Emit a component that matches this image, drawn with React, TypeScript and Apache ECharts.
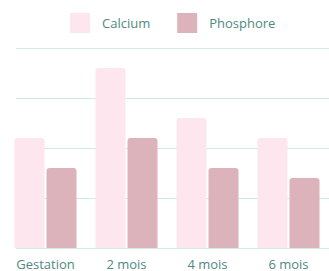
import React, { useEffect, useRef } from "react";
import * as echarts from "echarts";

const categories = ["Gestation", "2 mois", "4 mois", "6 mois"];
const calcium = [11, 18, 13, 11];
const phosphore = [8, 11, 8, 7];
const seriesNames = ["Calcium", "Phosphore"];
const yMin = 0;
const yMax = 20;
const yInterval = 5;

const TEXT = "#4f8a80";
const GRID = "#d3e9e4";
const FONT = "'Open Sans', 'Noto Sans', sans-serif";

export default function App() {
  const ref = useRef<HTMLDivElement>(null);
  useEffect(() => {
    const chart = echarts.init(ref.current!, null, { renderer: "svg" });
    chart.setOption({
      animation: false,
      backgroundColor: "#ffffff",
      textStyle: { fontFamily: FONT },
      legend: {
        left: 65,
        top: 8,
        itemWidth: 20,
        itemHeight: 20,
        itemGap: 27,
        icon: "rect",
        textStyle: { color: TEXT, fontSize: 13, fontFamily: FONT, padding: [0, 0, 0, 7] },
        data: seriesNames,
      },
      grid: [
        { left: 5, width: 336, top: 48, height: 200 },
        { left: 16, right: 0, top: 48, height: 200 },
      ],
      xAxis: [
        {
          type: "category",
          gridIndex: 0,
          data: categories,
          axisLine: { show: false },
          axisTick: { show: false },
          axisLabel: { color: TEXT, fontSize: 13, fontFamily: FONT, margin: 9 },
        },
        {
          type: "category",
          gridIndex: 1,
          data: categories,
          show: false,
        },
      ],
      yAxis: [
        {
          type: "value",
          gridIndex: 0,
          min: yMin,
          max: yMax,
          interval: yInterval,
          show: false,
          splitLine: { show: false },
        },
        {
          type: "value",
          gridIndex: 1,
          min: yMin,
          max: yMax,
          interval: yInterval,
          axisLine: { show: false },
          axisTick: { show: false },
          axisLabel: { show: false },
          splitLine: { show: true, lineStyle: { color: GRID, width: 1 } },
        },
      ],
      series: [
        {
          name: seriesNames[0],
          type: "bar",
          xAxisIndex: 0,
          yAxisIndex: 0,
          data: calcium,
          barWidth: 30,
          barGap: "6.67%",
          itemStyle: { color: "#fde6ee", borderRadius: [3, 3, 0, 0] },
        },
        {
          name: seriesNames[1],
          type: "bar",
          xAxisIndex: 0,
          yAxisIndex: 0,
          data: phosphore,
          barWidth: 30,
          barGap: "6.67%",
          itemStyle: { color: "#dcb3ba", borderRadius: [3, 3, 0, 0] },
        },
      ],
    });
    return () => chart.dispose();
  }, []);
  return <div ref={ref} style={{ width: 329, height: 271, position: "fixed", left: 0, top: 0 }} />;
}
